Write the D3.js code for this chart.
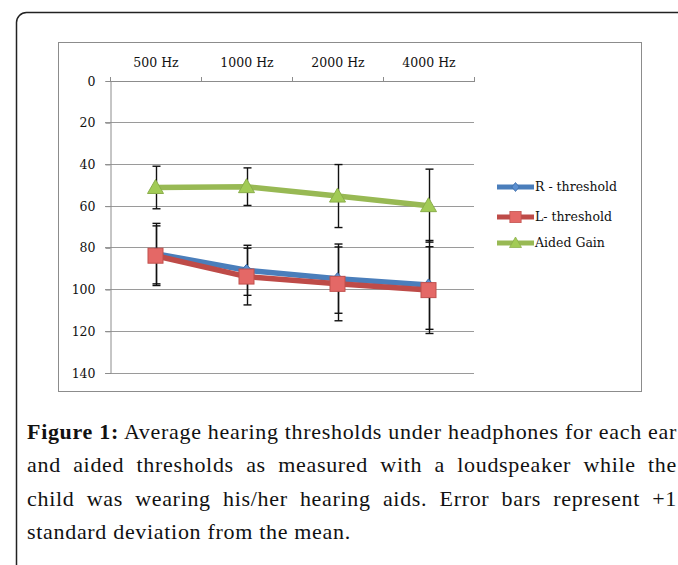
<!DOCTYPE html>
<html>
<head>
<meta charset="utf-8">
<script src="https://cdn.jsdelivr.net/npm/d3@7"></script>
<style>
  body { margin: 0; background: #fff; }
  svg { display: block; }
</style>
</head>
<body>
<svg id="chart" width="678" height="565"></svg>
<script>
// data
var freqs = ["500 Hz", "1000 Hz", "2000 Hz", "4000 Hz"];
var rThreshold = [83, 91, 95, 98];
var rSD = [14.5, 12, 16.6, 21.3];
var lThreshold = [84, 94, 97.5, 100.5];
var lSD = [14.3, 13.6, 17.7, 20.8];
var aidedGain = [51.3, 50.9, 55.4, 60];
var aidedSD = [10.2, 9, 15.1, 17.5];
var yTicks = [0, 20, 40, 60, 80, 100, 120, 140];
var seriesNames = ["R - threshold", "L- threshold", "Aided Gain"];
var captionLines = [
    "Average hearing thresholds under headphones for each ear",
    "and aided thresholds as measured with a loudspeaker while the",
    "child was wearing his/her hearing aids. Error bars represent +1",
    "standard deviation from the mean."
];

var series = [
    { name: seriesNames[0], values: rThreshold, sd: rSD, color: "#4a7ebb", fill: "#5b8fd0", stroke: "#3c6aa5", shape: "diamond" },
    { name: seriesNames[1], values: lThreshold, sd: lSD, color: "#be4b48", fill: "#e46866", stroke: "#c0504d", shape: "square" },
    { name: seriesNames[2], values: aidedGain, sd: aidedSD, color: "#98b954", fill: "#a2cb56", stroke: "#8aae4a", shape: "triangle" }
];

var svg = d3.select("#chart");
var font = "'DejaVu Serif', serif";

// outer figure box
svg.append("rect")
    .attr("x", 16.5).attr("y", 12.5)
    .attr("width", 720).attr("height", 620)
    .attr("rx", 10)
    .attr("fill", "none")
    .attr("stroke", "#222")
    .attr("stroke-width", 1.5);

// chart frame
svg.append("rect")
    .attr("x", 58.5).attr("y", 42.5)
    .attr("width", 583).attr("height", 349)
    .attr("fill", "none")
    .attr("stroke", "#8c8c8c");

var x = d3.scaleBand()
    .domain(freqs)
    .range([110, 474])
    .padding(0);

var y = d3.scaleLinear()
    .domain([0, 140])
    .range([80.5, 372.5]);

var cx = function (i) { return x(freqs[i]) + x.bandwidth() / 2; };

// gridlines
svg.append("g")
    .selectAll("line")
    .data(yTicks.slice(1))
    .enter()
    .append("line")
    .attr("x1", 105).attr("x2", 474)
    .attr("y1", d => Math.round(y(d)) + 0.5)
    .attr("y2", d => Math.round(y(d)) + 0.5)
    .attr("stroke", "#9a9a9a");

// y axis
var yAxis = svg.append("g")
    .attr("transform", "translate(110.5,0.5)")
    .call(d3.axisLeft(y).tickValues(yTicks).tickSize(5).tickPadding(10));
yAxis.select(".domain").attr("stroke", "#8c8c8c");
yAxis.selectAll(".tick line").attr("stroke", "#8c8c8c");
yAxis.selectAll("text")
    .style("font-family", font)
    .style("font-size", "12.5px")
    .attr("fill", "#111");

// x axis on top
var xAxis = svg.append("g")
    .attr("transform", "translate(0.5," + (y(0) + 0.5) + ")")
    .call(d3.axisTop(x).tickSize(0).tickPadding(14));
xAxis.select(".domain").attr("stroke", "#8c8c8c");
xAxis.selectAll("text")
    .style("font-family", font)
    .style("font-size", "12.5px")
    .attr("fill", "#111");
// category separators
xAxis.selectAll(".sep")
    .data(freqs.concat(["end"]))
    .enter()
    .append("line")
    .attr("x1", (d, i) => Math.round(x.range()[0] + i * x.bandwidth()))
    .attr("x2", (d, i) => Math.round(x.range()[0] + i * x.bandwidth()))
    .attr("y1", 0).attr("y2", -4)
    .attr("stroke", "#8c8c8c");

// error bars
series.forEach(function (s) {
    var eb = svg.append("g").attr("stroke", "#111").attr("stroke-width", 1.4);
    s.values.forEach(function (v, i) {
        var px = Math.round(cx(i)) + 0.5;
        eb.append("line")
            .attr("x1", px).attr("x2", px)
            .attr("y1", y(v - s.sd[i])).attr("y2", y(v + s.sd[i]));
        [v - s.sd[i], v + s.sd[i]].forEach(function (e) {
            eb.append("line")
                .attr("x1", px - 4).attr("x2", px + 4)
                .attr("y1", y(e)).attr("y2", y(e));
        });
    });
});

// lines
var line = d3.line()
    .x((d, i) => cx(i))
    .y(d => y(d));

series.forEach(function (s) {
    svg.append("path")
        .datum(s.values)
        .attr("d", line)
        .attr("fill", "none")
        .attr("stroke", s.color)
        .attr("stroke-width", 5.5)
        .attr("stroke-linejoin", "round");
});

// markers
function marker(g, shape, s) {
    if (shape === "square") {
        g.append("rect")
            .attr("x", -7.5).attr("y", -7.5)
            .attr("width", 15).attr("height", 15)
            .attr("fill", s.fill).attr("stroke", s.stroke);
    } else if (shape === "triangle") {
        g.append("path")
            .attr("d", "M0,-8L8,6L-8,6Z")
            .attr("fill", s.fill).attr("stroke", s.stroke);
    } else {
        g.append("path")
            .attr("d", "M0,-6L5,0L0,6L-5,0Z")
            .attr("fill", s.fill).attr("stroke", s.stroke);
    }
}

series.forEach(function (s) {
    svg.append("g")
        .selectAll("g")
        .data(s.values)
        .enter()
        .append("g")
        .attr("transform", (d, i) => "translate(" + cx(i) + "," + y(d) + ")")
        .each(function () { marker(d3.select(this), s.shape, s); });
});

// legend
var legend = svg.selectAll(".legend")
    .data(series)
    .enter()
    .append("g")
    .attr("class", "legend")
    .attr("transform", (d, i) => "translate(497," + [187, 217, 243][i] + ")");

legend.append("line")
    .attr("x1", 0).attr("x2", 37)
    .attr("stroke", d => d.color)
    .attr("stroke-width", 5);

legend.each(function (d) {
    var g = d3.select(this).append("g")
        .attr("transform", "translate(18.5,0) scale(0.75)");
    marker(g, d.shape, d);
});

legend.append("text")
    .attr("x", 38)
    .attr("dy", "0.35em")
    .style("font-family", font)
    .style("font-size", "12.5px")
    .attr("fill", "#111")
    .text(d => d.name);

// caption, justified; letter spacing chosen so the first line fills naturally
var capFont = "'Liberation Serif', 'Times New Roman', serif";
var capLeft = 27, capRight = 677;
var texts = captionLines.map(function (ln, i) {
    var t = svg.append("text")
        .attr("x", capLeft)
        .attr("y", 439 + i * 33.3)
        .style("font-family", capFont)
        .style("font-size", "22px")
        .attr("fill", "#111");
    if (i === 0) {
        t.append("tspan").attr("font-weight", "bold").text("Figure 1:");
        t.append("tspan").text(" " + ln);
    } else {
        t.append("tspan").text(ln);
    }
    return t;
});
var first = texts[0];
var firstLen = ("Figure 1: " + captionLines[0]).length;
var ls = (capRight - capLeft - first.node().getComputedTextLength()) / firstLen;
texts.forEach(function (t, i) {
    t.style("letter-spacing", ls + "px");
    if (i < captionLines.length - 1) {
        var full = (i === 0 ? "Figure 1: " : "") + captionLines[i];
        var gaps = full.split(" ").length - 1;
        var extra = (capRight - capLeft - t.node().getComputedTextLength()) / gaps;
        t.style("word-spacing", extra + "px");
    }
});
</script>
</body>
</html>
